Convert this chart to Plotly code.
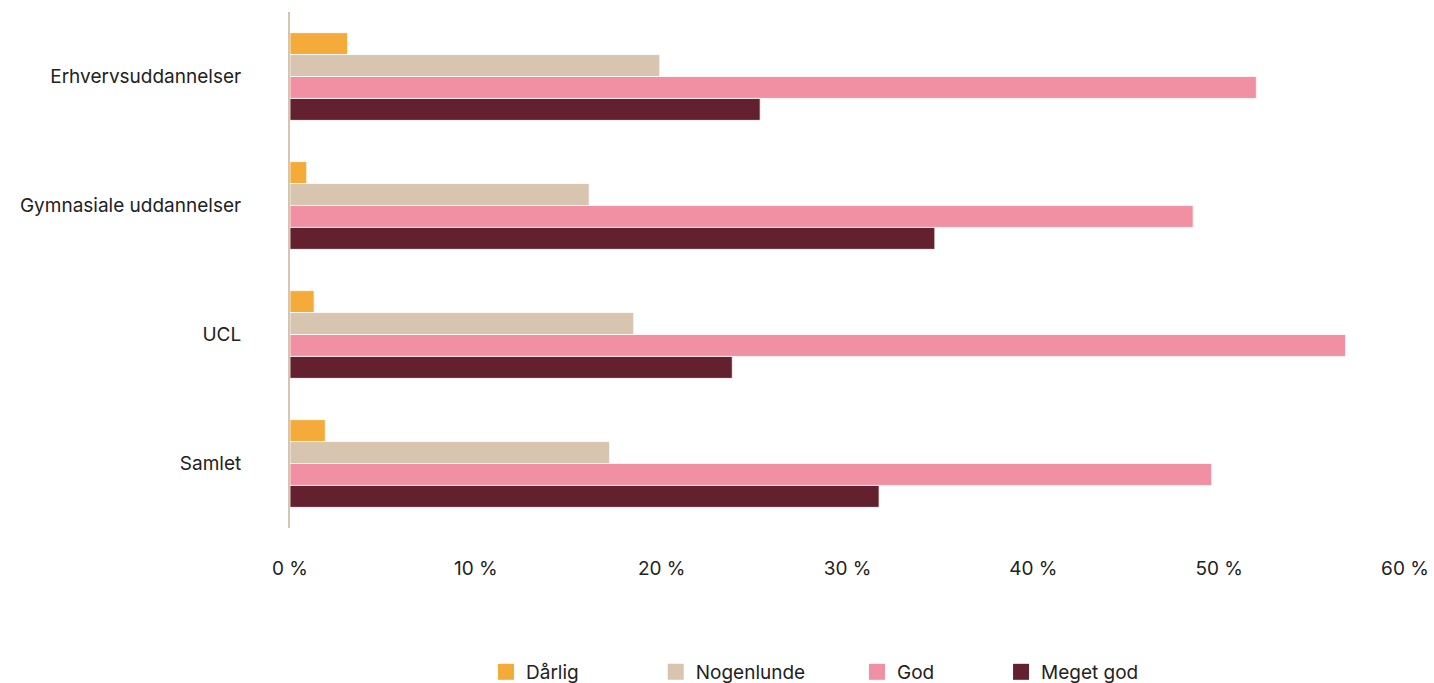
import plotly.graph_objects as go

categories = ["Erhvervsuddannelser", "Gymnasiale uddannelser", "UCL", "Samlet"]
series_names = ["Dårlig", "Nogenlunde", "God", "Meget god"]
darlig = [3.1, 0.9, 1.3, 1.9]
nogenlunde = [19.9, 16.1, 18.5, 17.2]
god = [52.0, 48.6, 56.8, 49.6]
meget_god = [25.3, 34.7, 23.8, 31.7]
x_ticks = [0, 10, 20, 30, 40, 50, 60]
x_tick_labels = ["0 %", "10 %", "20 %", "30 %", "40 %", "50 %", "60 %"]

colors = ["#f5ab3a", "#d7c5b0", "#f090a2", "#632130"]
legend_ids = ["legend", "legend2", "legend3", "legend4"]
legend_x = [0.1758, 0.328, 0.5085, 0.6377]

FONT = "Inter"
FS = 19

fig = go.Figure()
for name, vals, col in zip(series_names, [darlig, nogenlunde, god, meget_god], colors):
    fig.add_trace(go.Bar(
        y=categories, x=vals, name=name, orientation="h",
        marker=dict(color=col, line=dict(color="rgba(255,255,255,0.8)", width=1)),
        showlegend=False,
    ))

# square legend keys, one legend box per series
for name, col, lg in zip(series_names, colors, legend_ids):
    fig.add_trace(go.Scatter(
        x=[None], y=[None], mode="markers", name=name,
        marker=dict(symbol="square", size=17, color=col),
        legend=lg, showlegend=True,
    ))

legend_common = dict(orientation="h", yanchor="middle", y=-0.279, xanchor="left",
                     font=dict(family=FONT, size=FS, color="#222"),
                     bgcolor="rgba(0,0,0,0)", itemsizing="trace")
layout_legends = {}
for lg, lx in zip(legend_ids, legend_x):
    layout_legends[lg] = dict(legend_common, x=lx, xref="paper")

fig.update_layout(
    width=1434, height=683,
    margin=dict(l=290, r=29, t=12, b=155, autoexpand=False),
    paper_bgcolor="white", plot_bgcolor="white",
    showlegend=True,
    barmode="group", bargap=0.32, bargroupgap=0,
    font=dict(family=FONT, size=FS, color="#222"),
    xaxis=dict(range=[0, 60], tickvals=x_ticks, ticktext=x_tick_labels,
               showgrid=False, zeroline=False, showline=False,
               ticks="", ticklabelstandoff=27,
               tickfont=dict(family=FONT, size=FS, color="#222")),
    yaxis=dict(categoryorder="array", categoryarray=categories, autorange="reversed",
               showgrid=False, zeroline=False, showline=True, linecolor="#d7c5b0", linewidth=2,
               ticks="", ticklabelstandoff=43,
               tickfont=dict(family=FONT, size=FS, color="#222")),
    **layout_legends,
)

fig.write_html("out.html")
